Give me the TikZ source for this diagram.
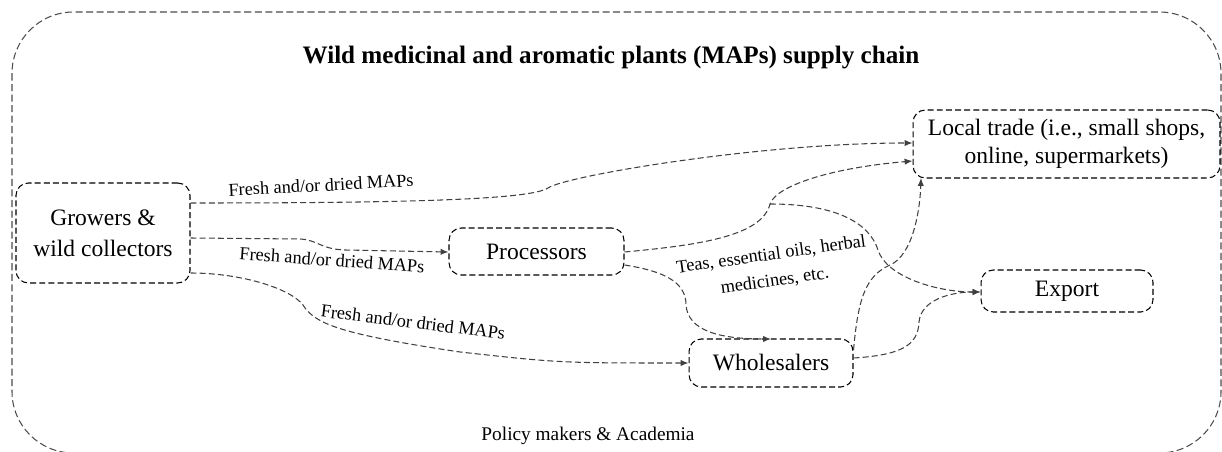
\documentclass[tikz,border=0pt]{standalone}
\usepackage{fontspec}
\setmainfont{Liberation Serif}
\usetikzlibrary{arrows.meta}
\begin{document}
\begin{tikzpicture}[x=0.02cm,y=-0.02cm,
  box/.style={draw=black, line width=0.6pt, dash pattern=on 3.4pt off 1.8pt, rounded corners=7pt,
    inner sep=0pt, align=center, font=\fontsize{13.4}{17.5}\selectfont},
  conn/.style={draw=black!75, line width=0.6pt, dash pattern=on 3.4pt off 1.8pt},
  arr/.style={conn, -{Latex[length=4.5pt,width=3.6pt]}},
  lbl/.style={font=\fontsize{10.4}{15}\selectfont, inner sep=0pt, align=center},
  outer/.style={draw=black!70, line width=0.6pt, dash pattern=on 4pt off 2pt, rounded corners=35pt}]
\useasboundingbox (0,0) rectangle (1222,452);
\draw[outer] (12,12) rectangle (1221,453);
\node[font=\fontsize{14.3}{17}\selectfont\bfseries] (title) at (611,57) {Wild medicinal and aromatic plants (MAPs) supply chain};
\node[font=\fontsize{11}{13}\selectfont] (policy) at (588,436) {Policy makers \& Academia};

\node[box, minimum width=3.48cm, minimum height=2.0cm] (gro) at (103,233) {Growers \&\\wild collectors};
\node[box, minimum width=3.5cm, minimum height=0.94cm] (pro) at (536.5,251.5) {Processors};
\node[box, minimum width=6.14cm, minimum height=1.36cm, font=\fontsize{13.4}{16}\selectfont] (loc) at (1066.5,144) {Local trade (i.e., small shops,\\online, supermarkets)};
\node[box, minimum width=3.44cm, minimum height=0.84cm] (exp) at (1067,291) {Export};
\node[box, minimum width=3.28cm, minimum height=0.96cm] (who) at (771,363) {Wholesalers};

% Growers -> Local trade
\draw[arr] (gro.east |- 0,203) .. controls (400,203) and (530,200) .. (548,188)
  .. controls (565,176) and (760,143) .. (loc.west |- 0,143);
\node[lbl, rotate=3] (l1) at (321,185) {Fresh and/or dried MAPs};
% Growers -> Processors
\draw[arr] (gro.east |- 0,238) -- (300,239) .. controls (318,240) and (320,249) .. (345,250) -- (pro.west |- 0,252);
\node[lbl, rotate=-4] (l2) at (332,260) {Fresh and/or dried MAPs};
% Growers -> Wholesalers
\draw[arr] (gro.east |- 0,273) .. controls (240,273) and (290,288) .. (303,305)
  .. controls (315,324) and (340,334) .. (460,352) .. controls (560,363) .. (who.west |- 0,363);
\node[lbl, rotate=-7] (l3) at (413,322) {Fresh and/or dried MAPs};
% Processors -> Local trade
\coordinate (bend) at (770,204);
\draw[arr] (pro.east |- 0,252) .. controls (700,245) and (762,236) .. (bend)
  .. controls (776,186) and (830,168) .. (loc.west |- 0,161);
% branch -> Export
\draw[arr] (bend) .. controls (840,204) and (870,225) .. (878,250)
  .. controls (886,276) and (935,292) .. (exp.west |- 0,292);
% Processors -> Wholesalers
\draw[arr] (pro.east |- 0,265) .. controls (670,272) and (686,285) .. (686,305)
  .. controls (688,331) and (720,339) .. (who.north |- 0,339);
\node[lbl, rotate=8] (l4) at (773,268) {Teas, essential oils, herbal\\medicines, etc.};
% Wholesalers -> Local trade
\draw[arr] (who.east |- 0,350) .. controls (858,300) and (865,276) .. (890,265)
  .. controls (913,255) and (920,210) .. (921,178);
% Wholesalers -> Export
\draw[arr] (who.east |- 0,358) .. controls (902,355) and (918,345) .. (919,322)
  .. controls (921,300) and (950,292) .. (exp.west |- 0,292);
\end{tikzpicture}
\end{document}
